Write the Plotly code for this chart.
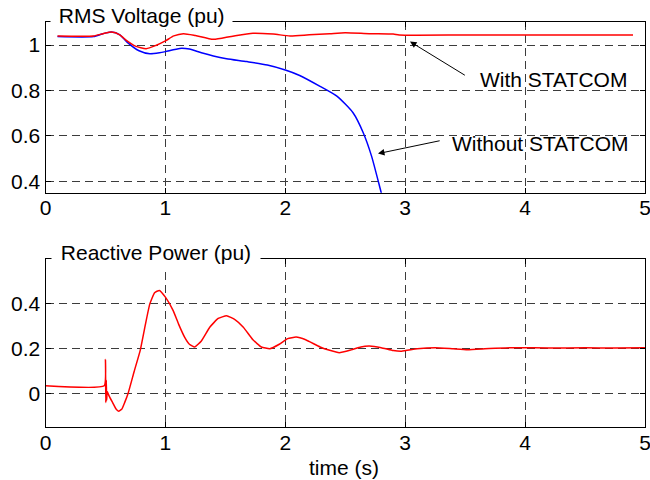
import plotly.graph_objects as go

# ---- data ----
t_with = [0.1, 0.4, 0.48, 0.55, 0.62, 0.68, 0.75, 0.84, 0.92, 1.0, 1.07, 1.15, 1.25, 1.40, 1.55,
          1.73, 1.9, 2.04, 2.2, 2.37, 2.5, 2.7, 2.9, 2.95, 3.5, 4.0, 4.5, 4.9]
v_with = [1.04, 1.04, 1.05, 1.057, 1.045, 1.018, 0.995, 0.984, 0.998, 1.018, 1.04, 1.05, 1.042, 1.025, 1.038,
          1.052, 1.048, 1.04, 1.045, 1.05, 1.054, 1.05, 1.048, 1.044, 1.044, 1.044, 1.044, 1.044]

t_without = [0.1, 0.4, 0.48, 0.55, 0.62, 0.68, 0.78, 0.87, 0.95, 1.0, 1.12, 1.2, 1.3, 1.4, 1.51,
             1.68, 1.85, 2.0, 2.12, 2.29, 2.43, 2.565, 2.65, 2.72, 2.80, 2.85]
v_without = [1.037, 1.037, 1.05, 1.057, 1.045, 1.013, 0.975, 0.962, 0.966, 0.971, 0.985, 0.982, 0.966, 0.952, 0.94,
             0.927, 0.912, 0.89, 0.866, 0.818, 0.775, 0.702, 0.614, 0.51, 0.35, 0.25]

t_q = [0.0, 0.49, 0.50, 0.503, 0.507, 0.51, 0.515, 0.53, 0.56, 0.59, 0.61, 0.635, 0.66, 0.69, 0.74,
       0.79, 0.83, 0.87, 0.91, 0.95, 1.0, 1.065, 1.11, 1.16, 1.2, 1.245, 1.3, 1.37, 1.44, 1.51,
       1.58, 1.65, 1.73, 1.80, 1.87, 1.95, 2.02, 2.09, 2.17, 2.29, 2.37, 2.45, 2.55, 2.63, 2.70,
       2.80, 2.90, 2.97, 3.1, 3.25, 3.4, 3.52, 3.7, 3.94, 4.2, 4.5, 4.75, 5.0]
q = [0.035, 0.035, 0.152, -0.04, 0.06, -0.03, 0.01, -0.01, -0.04, -0.07, -0.078, -0.07, -0.04, 0.003, 0.1,
     0.193, 0.3, 0.4, 0.45, 0.46, 0.43, 0.37, 0.31, 0.252, 0.22, 0.208, 0.235, 0.296, 0.335, 0.347,
     0.33, 0.296, 0.24, 0.208, 0.2, 0.22, 0.245, 0.252, 0.24, 0.208, 0.193, 0.182, 0.195, 0.208, 0.212,
     0.205, 0.192, 0.189, 0.2, 0.205, 0.2, 0.196, 0.201, 0.205, 0.203, 0.204, 0.203, 0.204]

x_ticks = [0, 1, 2, 3, 4, 5]
v_ticks = [0.4, 0.6, 0.8, 1]
q_ticks = [0, 0.2, 0.4]

FONT = "Liberation Sans, Arial, sans-serif"
FS = 21
GRID = "#3c3c3c"

fig = go.Figure()
fig.add_trace(go.Scatter(x=t_without, y=v_without, mode="lines",
                         line=dict(color="#0000ff", width=1.5, shape="spline", smoothing=0.6),
                         xaxis="x", yaxis="y", showlegend=False))
fig.add_trace(go.Scatter(x=t_with, y=v_with, mode="lines",
                         line=dict(color="#ff0000", width=1.5, shape="spline", smoothing=0.6),
                         xaxis="x", yaxis="y", showlegend=False))
fig.add_trace(go.Scatter(x=t_q, y=q, mode="lines",
                         line=dict(color="#ff0000", width=1.5, shape="spline", smoothing=0.4),
                         xaxis="x2", yaxis="y2", showlegend=False))

xdom = [45.5 / 650, 645 / 650]
common_x = dict(range=[0, 5], tickvals=x_ticks, showline=True, linecolor="black", linewidth=1,
                mirror="ticks", ticks="inside", ticklen=5, tickcolor="black",
                showgrid=True, gridcolor=GRID, griddash="8px,5px", gridwidth=1,
                zeroline=False, tickfont=dict(family=FONT, size=FS, color="black"), domain=xdom,
                ticklabeloverflow="allow", automargin=False, ticklabelstandoff=-4)
common_y = dict(showline=True, linecolor="black", linewidth=1, mirror="ticks", ticks="inside",
                ticklen=5, tickcolor="black", showgrid=True, gridcolor=GRID, griddash="8px,5px",
                gridwidth=1, zeroline=False, tickfont=dict(family=FONT, size=FS, color="black"),
                automargin=False)

fig.update_layout(
    width=650, height=480, margin=dict(l=0, r=0, t=0, b=0, pad=0, autoexpand=False),
    paper_bgcolor="white", plot_bgcolor="white",
    xaxis=dict(common_x, anchor="y"),
    yaxis=dict(common_y, range=[0.35, 1.1], tickvals=v_ticks, anchor="x",
               domain=[1 - 192.7 / 480, 1 - 22.3 / 480]),
    xaxis2=dict(common_x, anchor="y2"),
    yaxis2=dict(common_y, range=[-0.15, 0.6], tickvals=q_ticks, anchor="x2",
                domain=[1 - 427.3 / 480, 1 - 259 / 480]),
)

def txt(s, x, y, **kw):
    fig.add_annotation(text=s, xref="paper", yref="paper", x=x / 650, y=1 - y / 480,
                       xanchor="center", yanchor="middle", showarrow=False,
                       font=dict(family=FONT, size=FS, color="black"), **kw)

txt("&nbsp;RMS Voltage (pu)&nbsp;", 141, 15, bgcolor="white", borderpad=2)
txt("&nbsp;Reactive Power (pu)&nbsp;", 156, 252, bgcolor="white", borderpad=3)
txt("time (s)", 344, 467)
txt("With STATCOM", 553.7, 80)
txt("Without STATCOM", 540.5, 143.3)

fig.add_annotation(text="", x=3.04, y=1.015, xref="x", yref="y", ax=3.51, ay=0.863,
                   axref="x", ayref="y", showarrow=True, arrowhead=2, arrowsize=1.3,
                   arrowwidth=1, arrowcolor="black", standoff=0)
fig.add_annotation(text="", x=2.773, y=0.522, xref="x", yref="y", ax=3.30, ay=0.58,
                   axref="x", ayref="y", showarrow=True, arrowhead=2, arrowsize=1.3,
                   arrowwidth=1, arrowcolor="black", standoff=0)

fig.write_html("out.html")
